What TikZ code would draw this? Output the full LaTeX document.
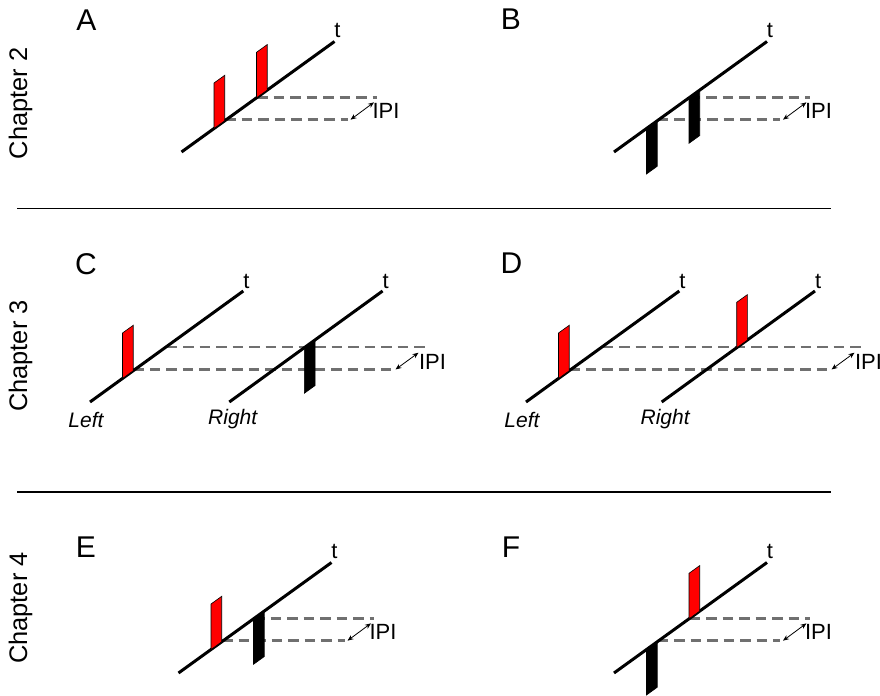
\documentclass[tikz,border=0pt]{standalone}
\usepackage{fontspec}
\setmainfont{Liberation Sans}
\usetikzlibrary{arrows.meta}
\definecolor{PulseRed}{RGB}{255,0,0}
\definecolor{DashGrey}{RGB}{112,112,112}

\begin{document}
\begin{tikzpicture}[
x=0.5pt,y=-0.5pt,
axis/.style={line width=1.5pt},
redpulse/.style={fill=PulseRed,draw=black,line width=0.3pt},
blackpulse/.style={fill=black,draw=black,line width=0.3pt},
ipiline/.style={draw=DashGrey,line width=1.25pt,dash pattern=on 5.25pt off 3pt},
ipiarrow/.style={{Stealth[length=3pt,width=2.4pt]}-{Stealth[length=3pt,width=2.4pt]},line width=0.4pt},
panel/.style={inner sep=0pt,font=\fontsize{15}{18}\selectfont},
chapter/.style={inner sep=0pt,rotate=90,font=\fontsize{12.7}{15}\selectfont},
tlabel/.style={inner sep=0pt,font=\fontsize{11}{13}\selectfont},
side/.style={inner sep=0pt,anchor=west,font=\fontsize{10.5}{12}\selectfont\itshape},
separator/.style={line width=0.6pt}
]
\useasboundingbox (0,0) rectangle (880,696);

% panel letters, chapters, separators
\node[panel] (lab-A) at (86.5,20) {A};
\node[panel] (lab-B) at (511,19) {B};
\node[panel] (lab-C) at (86,264) {C};
\node[panel] (lab-D) at (511.5,263.5) {D};
\node[panel] (lab-E) at (86,547.5) {E};
\node[panel] (lab-F) at (511,547.5) {F};
\node[chapter] (ch2) at (20.5,103.5) {Chapter 2};
\node[chapter] (ch3) at (20.5,356) {Chapter 3};
\node[chapter] (ch4) at (20.5,608) {Chapter 4};
\draw[separator] (17,208.5) -- (831,208.5);
\draw[separator] (17,492) -- (831,492);

% one time axis (A, B, E, F)
\foreach \n/\ox/\oy/\pa/\ha/\pb/\hb in {A/181.5/152/redpulse/-45.5/redpulse/-45.5,
  B/614/152/blackpulse/45.5/blackpulse/45.5,
  E/178.5/673/redpulse/-45.5/blackpulse/45.5,
  F/614/673/blackpulse/45.5/redpulse/-45.5}{
\begin{scope}[shift={(\ox,\oy)}]
\draw[ipiline] (43.5,-32.3) -- (166,-32.3);
\draw[ipiline] (75.5,-54.5) -- (195.7,-54.5);
\draw[axis] (0,0) -- (153,-110.5);
\draw[\pa] (32.5,-23.5) -- ++(10.7,-7.7) -- ++(0,\ha) -- ++(-10.7,7.7) -- cycle;
\draw[\pb] (75,-54.2) -- ++(10.7,-7.7) -- ++(0,\hb) -- ++(-10.7,7.7) -- cycle;
\coordinate (lo-\n) at (169,-32.3);
\coordinate (hi-\n) at (192.5,-49.7);
\draw[ipiarrow] (lo-\n) -- (hi-\n);
\node[tlabel] (t-\n) at (156,-121.5) {t};
\node[tlabel] (ipi-\n) at (204.5,-41.3) {IPI};
\end{scope}}

% two time axes, left and right (C, D)
\foreach \n/\ox/\dx/\pb/\hb in {C/90/139.3/blackpulse/45.5, D/526/135.7/redpulse/-45.5}{
\begin{scope}[shift={(\ox,402)}]
\draw[ipiline] (43.3,-32.5) -- (303,-32.5);
\draw[ipiline] (76.5,-55) -- (334.5,-55);
\draw[axis] (0,0) -- (153.3,-111);
\draw[axis] (\dx,0) -- ++(153.3,-111);
\draw[redpulse] (32.5,-23.5) -- ++(10.7,-7.7) -- ++(0,-45.5) -- ++(-10.7,7.7) -- cycle;
\draw[\pb] (\dx+75,-54.2) -- ++(10.7,-7.7) -- ++(0,\hb) -- ++(-10.7,7.7) -- cycle;
\coordinate (lo-\n) at (305.5,-32.5);
\coordinate (hi-\n) at (328.5,-49.3);
\draw[ipiarrow] (lo-\n) -- (hi-\n);
\node[tlabel] (tl-\n) at (156.5,-121) {t};
\node[tlabel] (tr-\n) at (\dx+156.5,-121) {t};
\node[tlabel] (ipi-\n) at (342.5,-40) {IPI};
\node[side] (left-\n) at (-22,17.5) {Left};
\node[side] (right-\n) at (\dx-21.5,17.5) {Right};
\end{scope}}
\end{tikzpicture}
\end{document}
